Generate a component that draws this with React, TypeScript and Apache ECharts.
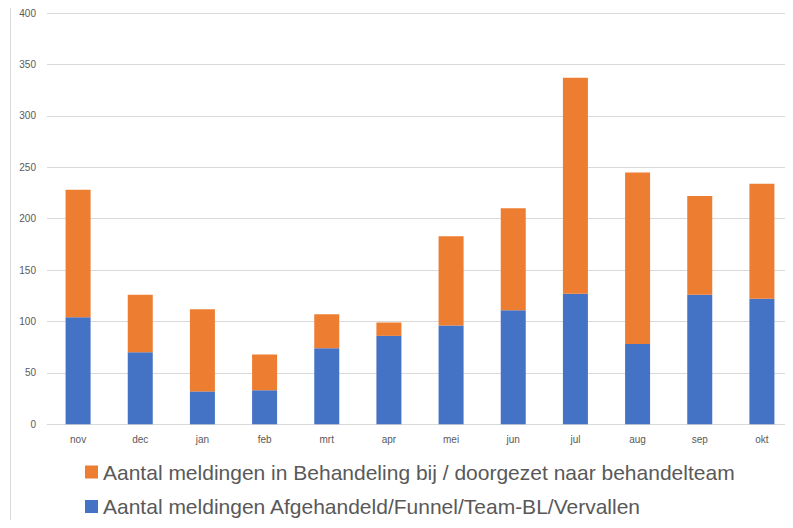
import React, { useEffect, useRef } from "react";
import * as echarts from "echarts";

const categories = ["nov", "dec", "jan", "feb", "mrt", "apr", "mei", "jun", "jul", "aug", "sep", "okt"];
const afgehandeld = [104, 70, 32, 33, 74, 86, 96, 111, 127, 78, 126, 122];
const inBehandeling = [124, 56, 80, 35, 33, 13, 87, 99, 210, 167, 96, 112];
const nameOrange = "Aantal meldingen in Behandeling bij / doorgezet naar behandelteam";
const nameBlue = "Aantal meldingen Afgehandeld/Funnel/Team-BL/Vervallen";

export default function App() {
  const ref = useRef<HTMLDivElement>(null);
  useEffect(() => {
    const chart = echarts.init(ref.current!, null, { renderer: "svg" });
    chart.setOption({
      animation: false,
      backgroundColor: "#ffffff",
      textStyle: { fontFamily: "Liberation Sans, Arial, sans-serif" },
      grid: { left: 47, top: 13, width: 749, height: 411.3, containLabel: false },
      xAxis: {
        type: "category",
        data: categories,
        axisLine: { lineStyle: { color: "#d9d9d9", width: 1 } },
        axisTick: { show: false },
        axisLabel: { color: "#595959", fontSize: 10, margin: 10 },
      },
      yAxis: {
        type: "value",
        min: 0,
        max: 400,
        interval: 50,
        axisLine: { show: false },
        axisTick: { show: false },
        axisLabel: { color: "#595959", fontSize: 10, margin: 11 },
        splitLine: { lineStyle: { color: "#d9d9d9", width: 1 } },
      },
      legend: {
        orient: "vertical",
        left: 80,
        top: 455,
        itemWidth: 13,
        itemHeight: 13,
        itemGap: 10.5,
        icon: "rect",
        data: [nameOrange, nameBlue],
        textStyle: { color: "#595959", fontSize: 21, padding: [0, 0, 0, 0], lineHeight: 24 },
      },
      graphic: [
        {
          type: "line",
          shape: { x1: 10.5, y1: 0, x2: 10.5, y2: 528 },
          style: { stroke: "#d9d9d9", lineWidth: 1 },
        },
      ],
      series: [
        {
          name: nameBlue,
          type: "bar",
          stack: "total",
          data: afgehandeld,
          barWidth: 25,
          itemStyle: { color: "#4472C4" },
        },
        {
          name: nameOrange,
          type: "bar",
          stack: "total",
          data: inBehandeling,
          barWidth: 25,
          itemStyle: { color: "#ED7D31" },
        },
      ],
    });
    return () => chart.dispose();
  }, []);
  return <div ref={ref} style={{ width: 793, height: 528, margin: -8 }} />;
}
